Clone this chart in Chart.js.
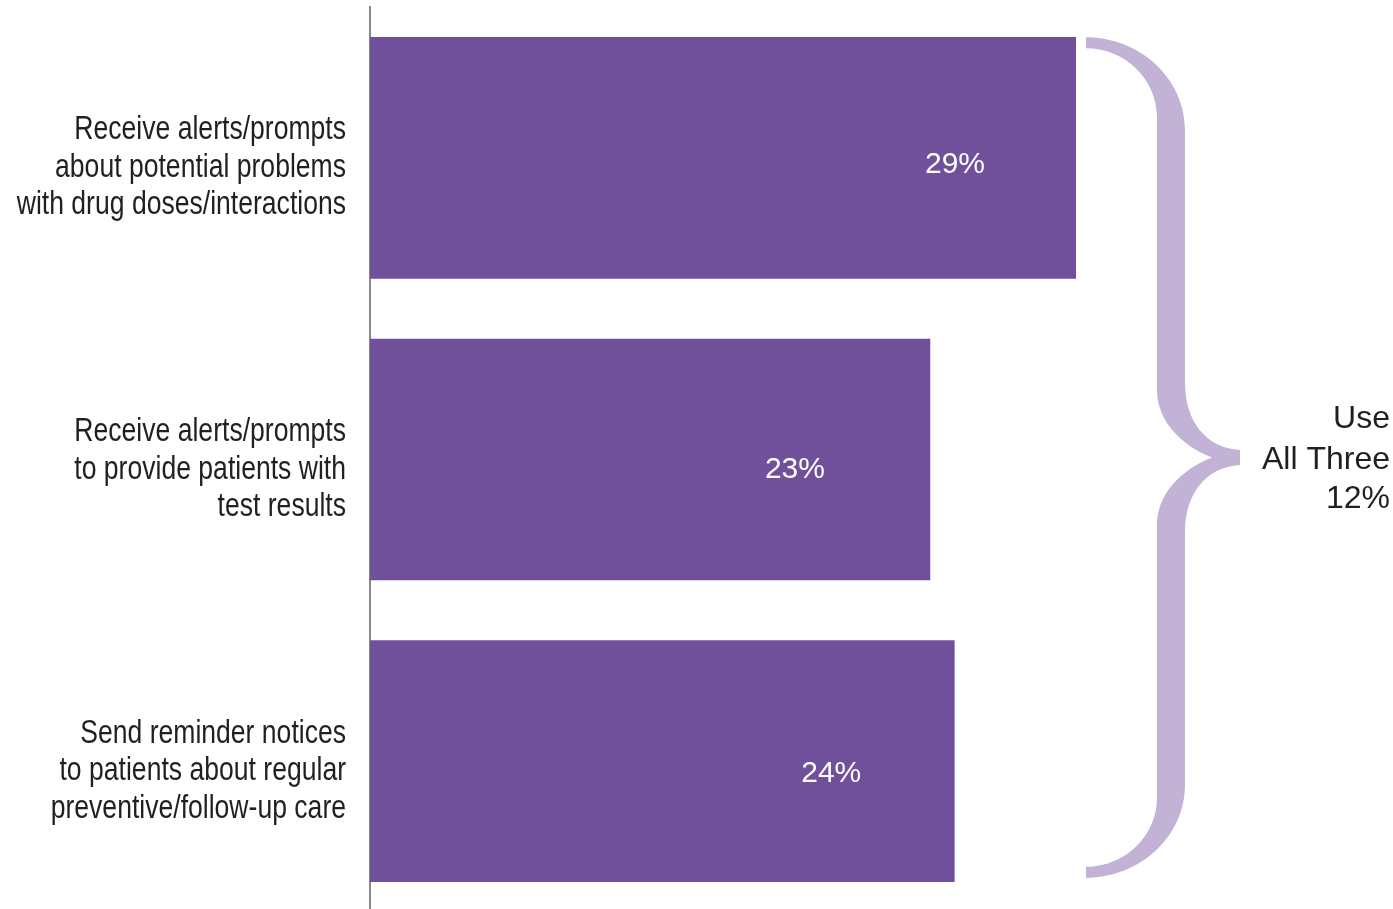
<!DOCTYPE html>
<html>
<head>
<meta charset="utf-8">
<script src="https://cdn.jsdelivr.net/npm/chart.js@4.4.1/dist/chart.umd.min.js"></script>
<style>
  html, body { margin: 0; padding: 0; background: #ffffff; overflow: hidden; }
  #wrap { position: relative; width: 1393px; height: 912px; }
</style>
</head>
<body>
<div id="wrap"><canvas id="c" width="1393" height="912"></canvas></div>
<script>
// ---- data ----
const categories = [
  ['Receive alerts/prompts', 'about potential problems', 'with drug doses/interactions'],
  ['Receive alerts/prompts', 'to provide patients with', 'test results'],
  ['Send reminder notices', 'to patients about regular', 'preventive/follow-up care']
];
const values = [29, 23, 24];
const allThreeLines = ['Use', 'All Three'];
const allThreeValue = 12;

// ---- style ----
const barColor = '#70509a';
const braceColor = '#c2b2d6';
const textColor = '#231f20';
const labelDx = [-121, -135, -123];
const labelDy = [15.5, 18, 21];
const labelCondense = 0.805;   // horizontal squeeze for the condensed category font
const labelRightX = 346;

const condensedLabels = {
  id: 'condensedLabels',
  beforeDraw(chart) {
    const sc = chart.scales.y;
    if (sc && !sc._condensedPatched) {
      const orig = sc.drawLabels.bind(sc);
      sc._computeLabelArea = function () { return undefined; };
      sc.drawLabels = function (area) {
        const ctx = this.ctx;
        ctx.save();
        ctx.translate(labelRightX, 0);
        ctx.scale(labelCondense, 1);
        ctx.translate(-labelRightX, 0);
        orig(area);
        ctx.restore();
      };
      sc._condensedPatched = true;
    }
  }
};

const valueLabels = {
  id: 'valueLabels',
  afterDatasetsDraw(chart) {
    const ctx = chart.ctx;
    const meta = chart.getDatasetMeta(0);
    ctx.save();
    ctx.fillStyle = '#ffffff';
    ctx.font = '30px "Liberation Sans", Arial, sans-serif';
    ctx.textAlign = 'center';
    ctx.textBaseline = 'alphabetic';
    meta.data.forEach((bar, i) => {
      ctx.fillText(values[i] + '%', bar.x + labelDx[i], bar.y + labelDy[i]);
    });
    ctx.restore();
  }
};

const bracePlugin = {
  id: 'brace',
  afterDraw(chart) {
    const ctx = chart.ctx;
    const meta = chart.getDatasetMeta(0);
    const first = meta.data[0];
    const last = meta.data[meta.data.length - 1];
    const top = first.y - first.height / 2;
    const bottom = last.y + last.height / 2 - 4;
    const mid = (top + bottom) / 2;
    const x0 = chart.chartArea.right + 10;
    ctx.save();
    ctx.fillStyle = braceColor;
    ctx.beginPath();
    ctx.moveTo(x0, top);
    ctx.bezierCurveTo(x0 + 54.5, top, x0 + 99, top + 41.8, x0 + 99, top + 93);
    ctx.lineTo(x0 + 99, mid - 74.5);
    ctx.bezierCurveTo(x0 + 99, mid - 37.5, x0 + 119, mid - 9.5, x0 + 154, mid - 7.5);
    ctx.lineTo(x0 + 154, mid + 7.5);
    ctx.bezierCurveTo(x0 + 119, mid + 9.5, x0 + 99, mid + 37.5, x0 + 99, mid + 74.5);
    ctx.lineTo(x0 + 99, bottom - 93);
    ctx.bezierCurveTo(x0 + 99, bottom - 41.8, x0 + 54.5, bottom, x0, bottom);
    ctx.lineTo(x0, bottom - 11);
    ctx.bezierCurveTo(x0 + 39, bottom - 11, x0 + 71, bottom - 42, x0 + 71, bottom - 80);
    ctx.lineTo(x0 + 71, mid + 67.5);
    ctx.bezierCurveTo(x0 + 71, mid + 37.5, x0 + 94, mid + 12.5, x0 + 126, mid);
    ctx.bezierCurveTo(x0 + 94, mid - 12.5, x0 + 71, mid - 37.5, x0 + 71, mid - 67.5);
    ctx.lineTo(x0 + 71, top + 80);
    ctx.bezierCurveTo(x0 + 71, top + 42, x0 + 39, top + 11, x0, top + 11);
    ctx.closePath();
    ctx.fill();

    ctx.fillStyle = textColor;
    ctx.font = '32px "Liberation Sans", Arial, sans-serif';
    ctx.textAlign = 'right';
    ctx.textBaseline = 'alphabetic';
    const xr = chart.width - 3;
    ctx.fillText(allThreeLines[0], xr, mid - 29.5);
    ctx.fillText(allThreeLines[1], xr, mid + 11.5);
    ctx.fillText(allThreeValue + '%', xr, mid + 50.5);
    ctx.restore();
  }
};

new Chart(document.getElementById('c'), {
  type: 'bar',
  data: {
    labels: categories,
    datasets: [{
      data: values,
      backgroundColor: barColor,
      borderWidth: 0,
      barThickness: 241
    }]
  },
  options: {
    indexAxis: 'y',
    responsive: false,
    animation: false,
    events: [],
    layout: { padding: { top: 7, right: 317, bottom: 0, left: 0 } },
    plugins: { legend: { display: false }, tooltip: { enabled: false } },
    scales: {
      x: {
        display: false,
        min: 0,
        max: 29
      },
      y: {
        afterFit(scale) {
          scale.width = 370;
          scale.paddingTop = 0;
          scale.paddingBottom = 0;
        },
        grid: { display: false, drawTicks: false },
        border: { display: true, color: '#888888', width: 2 },
        ticks: {
          color: textColor,
          padding: 24,
          labelOffset: 10,
          font: { family: '"Liberation Sans", Arial, sans-serif', size: 33, lineHeight: 1.136 }
        }
      }
    }
  },
  plugins: [condensedLabels, valueLabels, bracePlugin]
});
</script>
</body>
</html>
